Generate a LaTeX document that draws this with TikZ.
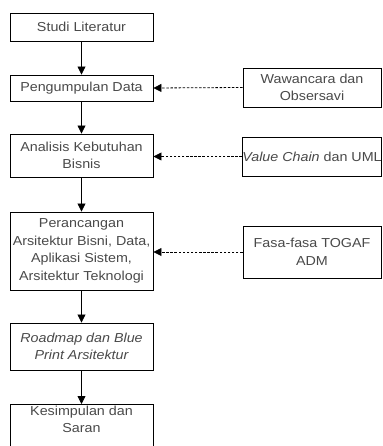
\documentclass[tikz,border=0pt]{standalone}
\usepackage{fontspec}
\setmainfont[FakeStretch=1.1]{Liberation Sans}
\usetikzlibrary{arrows.meta}
\definecolor{txt}{HTML}{4a4a4a}
\tikzset{
  box/.style={draw=black, line width=0.9pt, fill=white, text=txt, align=center,
    font=\fontsize{13}{17.5}\selectfont, inner sep=0pt},
  flow/.style={-{Triangle[length=8pt,width=8pt]}, line width=0.8pt, black},
  feed/.style={-{Triangle[length=8pt,width=8pt]}, line width=0.8pt, black, dash pattern=on 2.5pt off 1.6pt},
}
\begin{document}
\begin{tikzpicture}[x=1pt,y=1pt]
\clip (0,0) rectangle (382,-446);
\fill[white] (0,0) rectangle (382,-446);
% left column
\node[box, minimum width=143pt, minimum height=28pt] (a) at (81.5,-27) {Studi Literatur};
\node[box, minimum width=143pt, minimum height=26pt] (b) at (81.5,-88) {Pengumpulan Data};
\node[box, minimum width=143pt, minimum height=43pt] (c) at (81.5,-155.5) {Analisis Kebutuhan\\Bisnis};
\node[box, minimum width=143pt, minimum height=78pt] (d) at (81.5,-251) {Perancangan\\Arsitektur Bisni, Data,\\Aplikasi Sistem,\\Arsitektur Teknologi};
\node[box, minimum width=143pt, minimum height=47pt] (e) at (81.5,-346.5) {\itshape Roadmap dan Blue\\\itshape Print Arsitektur};
\node[box, minimum width=143pt, minimum height=50pt, anchor=north] (f) at (81.5,-404) {Kesimpulan dan\\Saran\\[3pt]};
% right column
\node[box, minimum width=138pt, minimum height=39pt] (r1) at (312,-87.5) {Wawancara dan\\Obsersavi};
\node[box, minimum width=138pt, minimum height=39pt] (r2) at (312,-156.5) {\itshape Value Chain\upshape{} dan UML};
\node[box, minimum width=138pt, minimum height=52pt] (r3) at (312,-252) {Fasa-fasa TOGAF\\ADM};
% connectors
\draw[flow] (a) -- (b);
\draw[flow] (b) -- (c);
\draw[flow] (c) -- (d);
\draw[flow] (d) -- (e);
\draw[flow] (e) -- (f);
\draw[feed] (r1.west) -- (b.east);
\draw[feed] (r2.west) -- (c.east |- r2.west);
\draw[feed] (r3.west) -- (d.east |- r3.west);
\end{tikzpicture}
\end{document}
